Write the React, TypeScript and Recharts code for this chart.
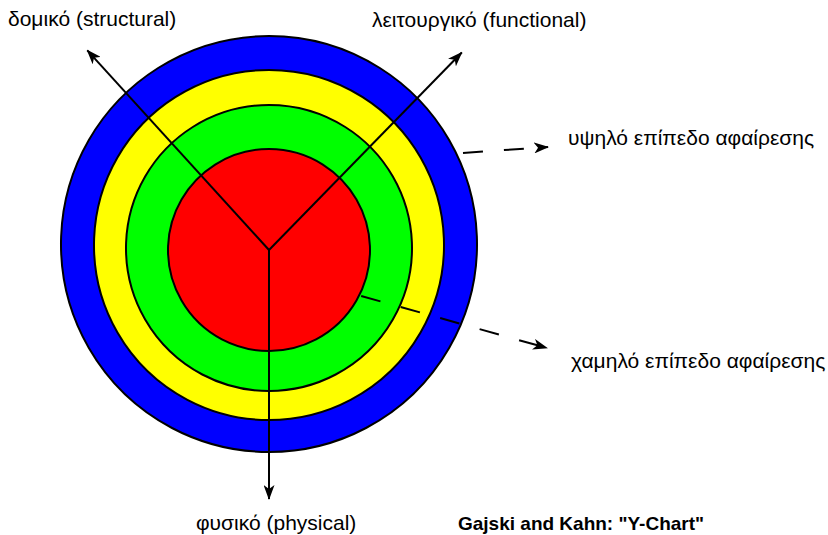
import * as R from "recharts"
import { Fragment } from "react"
import { PieChart, Pie } from "recharts"

// rings, outermost first (drawn as stacked discs)
const rings = ["επίπεδο 4", "επίπεδο 3", "επίπεδο 2", "επίπεδο 1"]
const ringValues = [1, 1, 1, 1]
const ringColors = ["#0000ff", "#ffff00", "#00ff00", "#ff0000"]

// the three views of the Y-chart
const views = ["δομικό (structural)", "λειτουργικό (functional)", "φυσικό (physical)"]
const viewAngles = [132.3, 45.7, -90]

const levelLabels = ["υψηλό επίπεδο αφαίρεσης", "χαμηλό επίπεδο αφαίρεσης"]
const title = 'Gajski and Kahn: "Y-Chart"'

// layout
const W = 828
const H = 535
const CX = 269
const CY = 250
const ringCy = [244, 245, 248, 250]
const radii = [208, 175, 143, 101]
const axisLen = [270, 276, 249]
const font = "'Liberation Sans', Arial, sans-serif"

const Layer: any = (R as any).ZIndexLayer ?? Fragment

const rad = (d: number) => (d * Math.PI) / 180
const pt = (r: number, a: number) => ({ x: CX + r * Math.cos(rad(a)), y: CY - r * Math.sin(rad(a)) })

export default function App() {
  const lowStart = pt(radii[3] + 2, -26.5)
  const layerProps = Layer === Fragment ? {} : { zIndex: 1500 }
  return (
    <div style={{ position: "absolute", left: 0, top: 0, width: W, height: H, background: "#fff" }}>
      <PieChart width={W} height={H} margin={{ top: 0, right: 0, bottom: 0, left: 0 }}>
        {rings.map((name, i) => (
          <Pie
            key={name}
            data={[{ name, value: ringValues[i] }]}
            dataKey="value"
            cx={CX}
            cy={ringCy[i]}
            innerRadius={0}
            outerRadius={radii[i]}
            startAngle={-90}
            endAngle={270}
            fill={ringColors[i]}
            stroke="#000"
            strokeWidth={2}
            label={false}
            labelLine={false}
            isAnimationActive={false}
          />
        ))}
        <Layer {...layerProps}>
          <defs>
            <marker id="ah" markerWidth="15" markerHeight="11" refX="14" refY="5.5" orient="auto" markerUnits="userSpaceOnUse">
              <path d="M0,0 L15,5.5 L0,11 L4,5.5 Z" fill="#000" />
            </marker>
          </defs>
          <g>
            {viewAngles.map((a, i) => {
              const e = pt(axisLen[i], a)
              return <line key={i} x1={CX} y1={CY} x2={e.x} y2={e.y} stroke="#000" strokeWidth={2} markerEnd="url(#ah)" />
            })}
            <line x1={463} y1={153} x2={548} y2={147} stroke="#000" strokeWidth={2} strokeDasharray="20 21" markerEnd="url(#ah)" />
            <line x1={lowStart.x} y1={lowStart.y} x2={547} y2={348} stroke="#000" strokeWidth={2} strokeDasharray="20 21" markerEnd="url(#ah)" />
          </g>
          <g fontFamily={font} fontSize={21} fill="#000">
            <text x={8} y={26}>{views[0]}</text>
            <text x={372} y={27}>{views[1]}</text>
            <text x={196} y={530}>{views[2]}</text>
            <text x={568} y={145}>{levelLabels[0]}</text>
            <text x={571} y={368}>{levelLabels[1]}</text>
            <text x={458} y={530} fontWeight="bold" fontSize={19}>{title}</text>
          </g>
        </Layer>
      </PieChart>
    </div>
  )
}
